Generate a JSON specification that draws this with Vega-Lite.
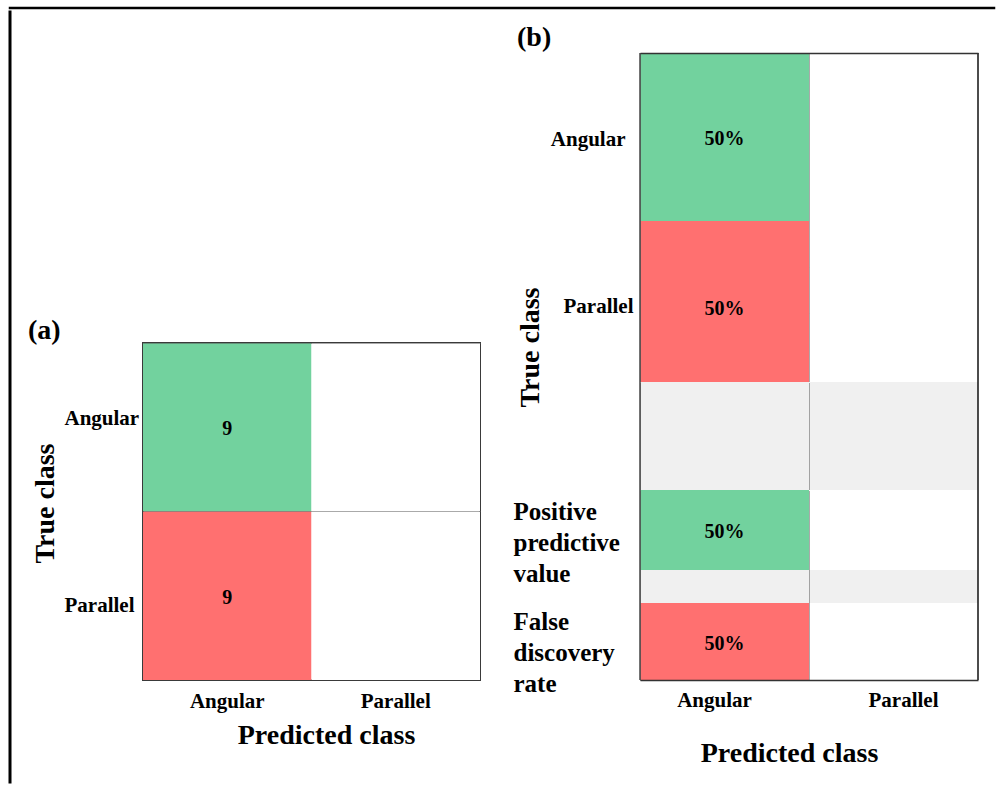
{
  "$schema": "https://vega.github.io/schema/vega-lite/v6.json",
  "background": "white",
  "padding": {"left": 8, "top": 6, "right": 0, "bottom": 0},
  "spacing": 0,
  "config": {
    "font": "Liberation Serif",
    "view": {"stroke": null},
    "scale": {"bandPaddingInner": 0, "bandPaddingOuter": 0},
    "axis": {
      "labelFont": "Liberation Serif",
      "titleFont": "Liberation Serif",
      "labelFontWeight": "bold",
      "titleFontWeight": "bold",
      "labelColor": "#000000",
      "titleColor": "#000000",
      "labelFontSize": 21,
      "titleFontSize": 28,
      "ticks": false,
      "domain": false,
      "grid": false,
      "labelAngle": 0,
      "gridColor": "#555555",
      "gridDash": [1, 1],
      "gridWidth": 1
    },
    "title": {
      "font": "Liberation Serif",
      "fontWeight": "bold",
      "fontSize": 28,
      "color": "#000000",
      "anchor": "start",
      "frame": "group"
    },
    "text": {"font": "Liberation Serif", "fontWeight": "bold", "fontSize": 20, "color": "#000000", "dy": 2}
  },
  "datasets": {
    "counts": [
      {"trueClass": "Angular", "predicted": "Angular", "count": 9, "outcome": "correct"},
      {"trueClass": "Angular", "predicted": "Parallel", "count": 0, "outcome": "incorrect"},
      {"trueClass": "Parallel", "predicted": "Angular", "count": 9, "outcome": "incorrect"},
      {"trueClass": "Parallel", "predicted": "Parallel", "count": 0, "outcome": "correct"}
    ],
    "shares": [
      {"row": "Angular", "predicted": "Angular", "share": 0.5, "outcome": "correct"},
      {"row": "Angular", "predicted": "Parallel", "share": 0, "outcome": "incorrect"},
      {"row": "Parallel", "predicted": "Angular", "share": 0.5, "outcome": "incorrect"},
      {"row": "Parallel", "predicted": "Parallel", "share": 0, "outcome": "correct"},
      {"row": "Positive predictive value", "predicted": "Angular", "share": 0.5, "outcome": "correct"},
      {"row": "Positive predictive value", "predicted": "Parallel", "share": 0, "outcome": "correct"},
      {"row": "False discovery rate", "predicted": "Angular", "share": 0.5, "outcome": "incorrect"},
      {"row": "False discovery rate", "predicted": "Parallel", "share": 0, "outcome": "incorrect"}
    ]
  },
  "vconcat": [
    {
      "width": 984,
      "height": 0.01,
      "data": {"values": []},
      "view": {"stroke": "#000000", "strokeWidth": 2.5},
      "mark": "rect",
      "encoding": {}
    },
    {
      "spacing": 15,
      "hconcat": [
        {
          "width": 0.01,
          "height": 770,
          "data": {"values": []},
          "view": {"stroke": "#000000", "strokeWidth": 3},
          "mark": "rect",
          "encoding": {}
        },
        {
          "spacing": 32,
          "hconcat": [
            {
              "bounds": "flush",
              "spacing": 0,
              "vconcat": [
                {
                  "width": 337,
                  "height": 330.5,
                  "data": {"values": []},
                  "view": {"fill": "#ffffff"},
                  "mark": "rect",
                  "encoding": {}
                },
                {
                  "width": 337,
                  "height": 337,
                  "data": {"name": "counts"},
                  "view": {"stroke": "#3a3a3a", "strokeWidth": 2},
                  "title": {"text": "(a)", "dx": -115, "offset": -2},
                  "encoding": {
                    "x": {
                      "field": "predicted", "type": "nominal",
                      "axis": {
                        "orient": "bottom",
                        "labelPadding": 10,
                        "labelBaseline": "top",
                        "title": "Predicted class",
                        "titlePadding": 10,
                        "titleX": 183
                      }
                    },
                    "y": {
                      "field": "trueClass", "type": "nominal",
                      "axis": {
                        "bandPosition": 0,
                        "grid": true,
                        "labelAlign": "left",
                        "labelPadding": 79,
                        "labelOffset": {"condition": {"test": "datum.value == 'Angular'", "value": -8}, "value": 10},
                        "title": "True class",
                        "titlePadding": 5,
                        "titleY": 160
                      }
                    }
                  },
                  "layer": [
                    {
                      "mark": {"type": "rect"},
                      "encoding": {
                        "color": {
                          "condition": {
                            "test": "datum.count > 0",
                            "field": "outcome", "type": "nominal",
                            "scale": {"domain": ["correct", "incorrect"], "range": ["#72D29E", "#FF7070"]},
                            "legend": null
                          },
                          "value": "#ffffff"
                        }
                      }
                    },
                    {
                      "transform": [{"filter": "datum.count > 0"}],
                      "mark": {"type": "text"},
                      "encoding": {"text": {"field": "count", "type": "quantitative"}}
                    }
                  ]
                }
              ]
            },
            {
              "bounds": "flush",
              "spacing": 0,
              "vconcat": [
                {
                  "width": 338,
                  "height": 40.5,
                  "data": {"values": []},
                  "view": {"fill": "#ffffff"},
                  "mark": "rect",
                  "encoding": {}
                },
                {
                  "width": 338,
                  "height": 168,
                  "data": {"name": "shares"},
                  "transform": [{"filter": "datum.row == 'Angular'"}],
                  "title": {"text": "(b)", "dx": -123, "offset": 0},
                  "layer": [
                    {
                      "mark": {"type": "rect"},
                      "encoding": {
                        "x": {"field": "predicted", "type": "nominal", "axis": {"orient": "top", "labels": false, "domain": true, "domainColor": "#333333", "domainWidth": 1.5, "title": null, "grid": true, "bandPosition": 0}},
                        "y": {"field": "row", "type": "nominal", "axis": {"labelPadding": 15, "labelOffset": 3, "title": null}},
                        "color": {
                          "condition": {
                            "test": "datum.share > 0",
                            "field": "outcome", "type": "nominal",
                            "scale": {"domain": ["correct", "incorrect"], "range": ["#72D29E", "#FF7070"]},
                            "legend": null
                          },
                          "value": "#ffffff"
                        }
                      }
                    },
                    {
                      "transform": [{"filter": "datum.predicted == 'Angular'"}],
                      "mark": {"type": "rule", "color": "#444444", "strokeWidth": 1.5},
                      "encoding": {"x": {"field": "predicted", "type": "nominal", "bandPosition": 0, "axis": {"orient": "top", "labels": false, "domain": true, "domainColor": "#333333", "domainWidth": 1.5, "title": null, "grid": true, "bandPosition": 0}}}
                    },
                    {
                      "transform": [{"filter": "datum.predicted == 'Parallel'"}],
                      "mark": {"type": "rule", "color": "#111111", "strokeWidth": 1.5},
                      "encoding": {"x": {"field": "predicted", "type": "nominal", "bandPosition": 1, "axis": {"orient": "top", "labels": false, "domain": true, "domainColor": "#333333", "domainWidth": 1.5, "title": null, "grid": true, "bandPosition": 0}}}
                    },
                    {
                      "transform": [{"filter": "datum.share > 0"}],
                      "mark": {"type": "text"},
                      "encoding": {
                        "x": {"field": "predicted", "type": "nominal", "axis": {"orient": "top", "labels": false, "domain": true, "domainColor": "#333333", "domainWidth": 1.5, "title": null, "grid": true, "bandPosition": 0}},
                        "y": {"field": "row", "type": "nominal", "axis": {"labelPadding": 15, "labelOffset": 3, "title": null}},
                        "text": {"field": "share", "type": "quantitative", "format": ".0%"}
                      }
                    }
                  ]
                },
                {
                  "width": 338,
                  "height": 161,
                  "data": {"name": "shares"},
                  "transform": [{"filter": "datum.row == 'Parallel'"}],
                  "layer": [
                    {
                      "mark": {"type": "rect"},
                      "encoding": {
                        "x": {"field": "predicted", "type": "nominal", "axis": {"labels": false, "title": null, "grid": true, "bandPosition": 0}},
                        "y": {"field": "row", "type": "nominal", "axis": {"labelPadding": 7, "labelOffset": 5, "title": "True class", "titleY": 126, "titlePadding": 19}},
                        "color": {
                          "condition": {
                            "test": "datum.share > 0",
                            "field": "outcome", "type": "nominal",
                            "scale": {"domain": ["correct", "incorrect"], "range": ["#72D29E", "#FF7070"]},
                            "legend": null
                          },
                          "value": "#ffffff"
                        }
                      }
                    },
                    {
                      "transform": [{"filter": "datum.predicted == 'Angular'"}],
                      "mark": {"type": "rule", "color": "#444444", "strokeWidth": 1.5},
                      "encoding": {"x": {"field": "predicted", "type": "nominal", "bandPosition": 0, "axis": {"labels": false, "title": null, "grid": true, "bandPosition": 0}}}
                    },
                    {
                      "transform": [{"filter": "datum.predicted == 'Parallel'"}],
                      "mark": {"type": "rule", "color": "#111111", "strokeWidth": 1.5},
                      "encoding": {"x": {"field": "predicted", "type": "nominal", "bandPosition": 1, "axis": {"labels": false, "title": null, "grid": true, "bandPosition": 0}}}
                    },
                    {
                      "transform": [{"filter": "datum.share > 0"}],
                      "mark": {"type": "text", "dy": 7},
                      "encoding": {
                        "x": {"field": "predicted", "type": "nominal", "axis": {"labels": false, "title": null, "grid": true, "bandPosition": 0}},
                        "y": {"field": "row", "type": "nominal", "axis": {"labelPadding": 7, "labelOffset": 5, "title": "True class", "titleY": 126, "titlePadding": 19}},
                        "text": {"field": "share", "type": "quantitative", "format": ".0%"}
                      }
                    }
                  ]
                },
                {
                  "width": 338,
                  "height": 108,
                  "data": {"name": "shares"},
                  "transform": [{"filter": "datum.row == 'Angular'"}],
                  "view": {"fill": "#f0f0f0"},
                  "layer": [
                    {
                      "transform": [{"filter": "datum.predicted == 'Angular'"}],
                      "mark": {"type": "rule", "color": "#444444", "strokeWidth": 1.5},
                      "encoding": {"x": {"field": "predicted", "type": "nominal", "bandPosition": 0, "axis": {"labels": false, "title": null, "grid": true, "bandPosition": 0}}}
                    },
                    {
                      "transform": [{"filter": "datum.predicted == 'Parallel'"}],
                      "mark": {"type": "rule", "color": "#111111", "strokeWidth": 1.5},
                      "encoding": {"x": {"field": "predicted", "type": "nominal", "bandPosition": 1, "axis": {"labels": false, "title": null, "grid": true, "bandPosition": 0}}}
                    }
                  ]
                },
                {
                  "width": 338,
                  "height": 80,
                  "data": {"name": "shares"},
                  "transform": [{"filter": "datum.row == 'Positive predictive value'"}],
                  "layer": [
                    {
                      "mark": {"type": "rect"},
                      "encoding": {
                        "x": {"field": "predicted", "type": "nominal", "axis": {"labels": false, "title": null, "grid": true, "bandPosition": 0}},
                        "y": {"field": "row", "type": "nominal", "axis": {"labelAlign": "left", "labelPadding": 127, "labelOffset": -18, "labelFontSize": 25, "labelLineHeight": 31, "labelExpr": "split(datum.label, ' ')", "title": null}},
                        "color": {
                          "condition": {
                            "test": "datum.share > 0",
                            "field": "outcome", "type": "nominal",
                            "scale": {"domain": ["correct", "incorrect"], "range": ["#72D29E", "#FF7070"]},
                            "legend": null
                          },
                          "value": "#ffffff"
                        }
                      }
                    },
                    {
                      "transform": [{"filter": "datum.predicted == 'Angular'"}],
                      "mark": {"type": "rule", "color": "#444444", "strokeWidth": 1.5},
                      "encoding": {"x": {"field": "predicted", "type": "nominal", "bandPosition": 0, "axis": {"labels": false, "title": null, "grid": true, "bandPosition": 0}}}
                    },
                    {
                      "transform": [{"filter": "datum.predicted == 'Parallel'"}],
                      "mark": {"type": "rule", "color": "#111111", "strokeWidth": 1.5},
                      "encoding": {"x": {"field": "predicted", "type": "nominal", "bandPosition": 1, "axis": {"labels": false, "title": null, "grid": true, "bandPosition": 0}}}
                    },
                    {
                      "transform": [{"filter": "datum.share > 0"}],
                      "mark": {"type": "text"},
                      "encoding": {
                        "x": {"field": "predicted", "type": "nominal", "axis": {"labels": false, "title": null, "grid": true, "bandPosition": 0}},
                        "y": {"field": "row", "type": "nominal", "axis": {"labelAlign": "left", "labelPadding": 127, "labelOffset": -18, "labelFontSize": 25, "labelLineHeight": 31, "labelExpr": "split(datum.label, ' ')", "title": null}},
                        "text": {"field": "share", "type": "quantitative", "format": ".0%"}
                      }
                    }
                  ]
                },
                {
                  "width": 338,
                  "height": 33,
                  "data": {"name": "shares"},
                  "transform": [{"filter": "datum.row == 'Angular'"}],
                  "view": {"fill": "#f0f0f0"},
                  "layer": [
                    {
                      "transform": [{"filter": "datum.predicted == 'Angular'"}],
                      "mark": {"type": "rule", "color": "#444444", "strokeWidth": 1.5},
                      "encoding": {"x": {"field": "predicted", "type": "nominal", "bandPosition": 0, "axis": {"labels": false, "title": null, "grid": true, "bandPosition": 0}}}
                    },
                    {
                      "transform": [{"filter": "datum.predicted == 'Parallel'"}],
                      "mark": {"type": "rule", "color": "#111111", "strokeWidth": 1.5},
                      "encoding": {"x": {"field": "predicted", "type": "nominal", "bandPosition": 1, "axis": {"labels": false, "title": null, "grid": true, "bandPosition": 0}}}
                    }
                  ]
                },
                {
                  "width": 338,
                  "height": 77,
                  "data": {"name": "shares"},
                  "transform": [{"filter": "datum.row == 'False discovery rate'"}],
                  "layer": [
                    {
                      "mark": {"type": "rect"},
                      "encoding": {
                        "x": {"field": "predicted", "type": "nominal", "axis": {"orient": "bottom", "domain": true, "domainColor": "#333333", "domainWidth": 1.5, "grid": true, "bandPosition": 0, "labelPadding": 9, "labelBaseline": "top", "labelOffset": {"condition": {"test": "datum.value == 'Angular'", "value": -10}, "value": 10}, "title": "Predicted class", "titlePadding": 29, "titleX": 149}},
                        "y": {"field": "row", "type": "nominal", "axis": {"labelAlign": "left", "labelPadding": 127, "labelOffset": -19.5, "labelFontSize": 25, "labelLineHeight": 31, "labelExpr": "split(datum.label, ' ')", "title": null}},
                        "color": {
                          "condition": {
                            "test": "datum.share > 0",
                            "field": "outcome", "type": "nominal",
                            "scale": {"domain": ["correct", "incorrect"], "range": ["#72D29E", "#FF7070"]},
                            "legend": null
                          },
                          "value": "#ffffff"
                        }
                      }
                    },
                    {
                      "transform": [{"filter": "datum.predicted == 'Angular'"}],
                      "mark": {"type": "rule", "color": "#444444", "strokeWidth": 1.5},
                      "encoding": {"x": {"field": "predicted", "type": "nominal", "bandPosition": 0, "axis": {"orient": "bottom", "domain": true, "domainColor": "#333333", "domainWidth": 1.5, "grid": true, "bandPosition": 0, "labelPadding": 9, "labelBaseline": "top", "labelOffset": {"condition": {"test": "datum.value == 'Angular'", "value": -10}, "value": 10}, "title": "Predicted class", "titlePadding": 29, "titleX": 149}}}
                    },
                    {
                      "transform": [{"filter": "datum.predicted == 'Parallel'"}],
                      "mark": {"type": "rule", "color": "#111111", "strokeWidth": 1.5},
                      "encoding": {"x": {"field": "predicted", "type": "nominal", "bandPosition": 1, "axis": {"orient": "bottom", "domain": true, "domainColor": "#333333", "domainWidth": 1.5, "grid": true, "bandPosition": 0, "labelPadding": 9, "labelBaseline": "top", "labelOffset": {"condition": {"test": "datum.value == 'Angular'", "value": -10}, "value": 10}, "title": "Predicted class", "titlePadding": 29, "titleX": 149}}}
                    },
                    {
                      "transform": [{"filter": "datum.share > 0"}],
                      "mark": {"type": "text"},
                      "encoding": {
                        "x": {"field": "predicted", "type": "nominal", "axis": {"orient": "bottom", "domain": true, "domainColor": "#333333", "domainWidth": 1.5, "grid": true, "bandPosition": 0, "labelPadding": 9, "labelBaseline": "top", "labelOffset": {"condition": {"test": "datum.value == 'Angular'", "value": -10}, "value": 10}, "title": "Predicted class", "titlePadding": 29, "titleX": 149}},
                        "y": {"field": "row", "type": "nominal", "axis": {"labelAlign": "left", "labelPadding": 127, "labelOffset": -19.5, "labelFontSize": 25, "labelLineHeight": 31, "labelExpr": "split(datum.label, ' ')", "title": null}},
                        "text": {"field": "share", "type": "quantitative", "format": ".0%"}
                      }
                    }
                  ]
                }
              ]
            }
          ]
        }
      ]
    }
  ]
}
